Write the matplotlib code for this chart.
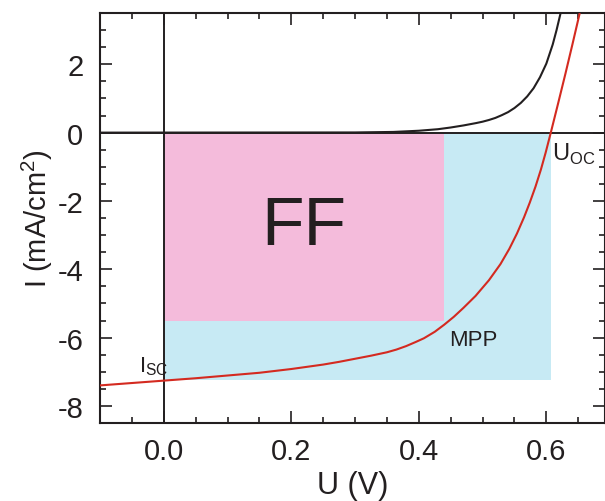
import matplotlib
matplotlib.use("Agg")
import matplotlib.pyplot as plt
from matplotlib.patches import Rectangle
from matplotlib.ticker import MultipleLocator, FormatStrFormatter

plt.rcParams['font.family'] = ['Liberation Sans', 'DejaVu Sans']
plt.rcParams['axes.unicode_minus'] = False
plt.rcParams['mathtext.fontset'] = 'custom'
plt.rcParams['mathtext.rm'] = 'Liberation Sans'

# Illuminated J-V curve of the cell
light_u = [-0.1, 0.0, 0.05, 0.1, 0.15, 0.2, 0.25, 0.275, 0.3, 0.325, 0.35,
           0.365, 0.38, 0.395, 0.408, 0.425, 0.44, 0.455, 0.47, 0.489, 0.51,
           0.528, 0.542, 0.554, 0.565, 0.574, 0.583, 0.5915, 0.599, 0.607,
           0.618, 0.630, 0.641, 0.652]
light_i = [-7.40, -7.26, -7.19, -7.11, -7.03, -6.92, -6.79, -6.71, -6.62,
           -6.53, -6.43, -6.35, -6.25, -6.13, -6.02, -5.83, -5.62, -5.39,
           -5.13, -4.78, -4.32, -3.85, -3.40, -2.95, -2.48, -2.05, -1.58,
           -1.08, -0.58, 0.0, 0.82, 1.73, 2.59, 3.47]

# Dark J-V curve
dark_u = [-0.1, 0.30, 0.36, 0.40, 0.43, 0.45, 0.47, 0.49, 0.50, 0.51, 0.52,
          0.53, 0.54, 0.55, 0.56, 0.57, 0.58, 0.59, 0.60, 0.61, 0.616, 0.622]
dark_i = [0.0, 0.005, 0.02, 0.055, 0.10, 0.15, 0.21, 0.28, 0.32, 0.37, 0.43,
          0.51, 0.60, 0.72, 0.87, 1.06, 1.30, 1.62, 2.02, 2.58, 3.00, 3.47]

# Characteristic points
isc = -7.25
uoc = 0.607
mpp_u = 0.44
mpp_i = -5.52

ink = '#231f20'

fig = plt.figure(figsize=(6.05, 5.02), dpi=100)
ax = fig.add_axes([0.1653, 0.1554, 0.8347, 0.8166])

ax.add_patch(Rectangle((0, isc), uoc, -isc, facecolor='#c7eaf4',
                       edgecolor='none', zorder=1))
ax.add_patch(Rectangle((0, mpp_i), mpp_u, -mpp_i, facecolor='#f4bbdb',
                       edgecolor='none', zorder=2))

ax.axhline(0, color=ink, lw=1.4, zorder=3)
ax.axvline(0, color=ink, lw=1.4, zorder=3)

ax.plot(dark_u, dark_i, color=ink, lw=1.5, zorder=4)
ax.plot(light_u, light_i, color='#d42a20', lw=1.5, zorder=5)

ax.text(0.219, -3.27, 'FF', fontsize=50, ha='center', va='baseline',
        color=ink, zorder=6)
ax.text(0.448, -6.21, 'MPP', fontsize=16, ha='left', va='baseline',
        color=ink, zorder=6)
ax.text(-0.039, -6.98, r'I$_{\rm SC}$', fontsize=16, ha='left',
        va='baseline', color=ink, zorder=6)
ax.text(0.609, -0.79, r'U$_{\rm OC}$', fontsize=17, ha='left',
        va='baseline', color=ink, zorder=6)

ax.set_xlim(-0.1, 0.692)
ax.set_ylim(-8.5, 3.5)
ax.xaxis.set_major_locator(MultipleLocator(0.2))
ax.xaxis.set_minor_locator(MultipleLocator(0.05))
ax.yaxis.set_major_locator(MultipleLocator(2))
ax.yaxis.set_minor_locator(MultipleLocator(0.5))
ax.xaxis.set_major_formatter(FormatStrFormatter('%.1f'))
ax.yaxis.set_major_formatter(FormatStrFormatter('%d'))
ax.tick_params(which='both', direction='in', top=True, right=True,
               color=ink, width=1.2, labelcolor=ink, labelsize=21)
ax.tick_params(which='major', length=8.5)
ax.tick_params(which='minor', length=4.3)
ax.tick_params(axis='x', pad=10)
ax.tick_params(axis='y', pad=12)
for s in ax.spines.values():
    s.set_linewidth(1.5)
    s.set_color(ink)

ax.set_xlabel('U (V)', fontsize=22, color=ink, labelpad=4)
ax.set_ylabel('I (mA/cm$^2$)', fontsize=21, color=ink, labelpad=2)

fig.savefig('out.png', dpi=100)
